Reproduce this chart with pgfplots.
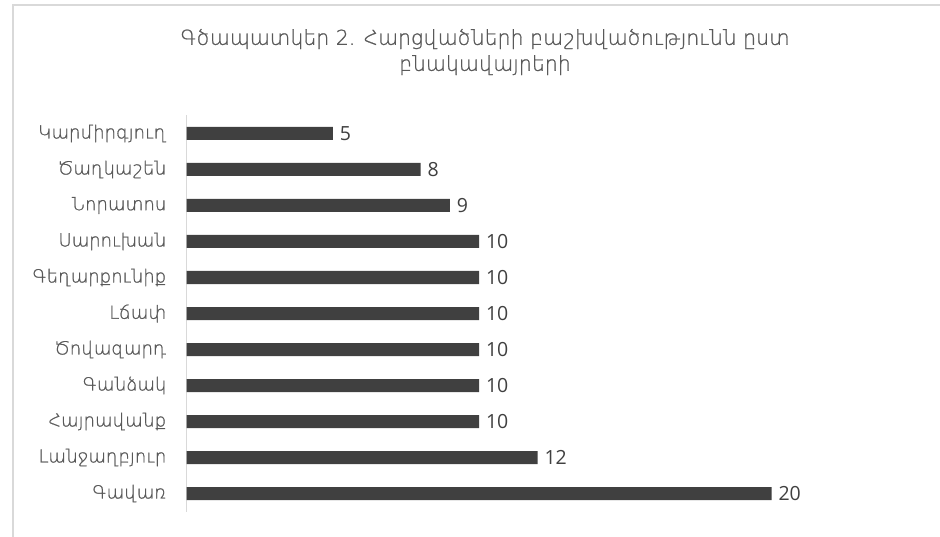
\documentclass[border=0pt]{standalone}
\usepackage{fontspec}
\usepackage{pgfplots}
\pgfplotsset{compat=1.18}
\setmainfont{Open Sans}
\newfontfamily\armfont[FakeBold=1]{DejaVu Sans ExtraLight}
\definecolor{barcol}{HTML}{404040}
\definecolor{txtcol}{HTML}{595959}
\definecolor{linecol}{HTML}{D9D9D9}
\begin{document}
\begin{tikzpicture}[x=1pt,y=1pt]
  % page frame
  \path[use as bounding box] (0,-537) rectangle (940,0);
  \fill[white] (0,-537) rectangle (940,0);
  \draw[linecol, line width=2pt] (13,-537) -- (13,-5) -- (940,-5);
  % title
  \node[text=txtcol, align=center, font=\armfont\fontsize{20.5}{26}\selectfont]
    at (485,-52) {Գծապատկեր 2. Հարցվածների բաշխվածությունն ըստ\\բնակավայրերի};
  \begin{axis}[
    at={(186.5pt,-511.5pt)}, anchor=south west,
    scale only axis,
    width=643.5pt, height=396pt,
    xmin=0, xmax=22,
    ymin=-0.5, ymax=10.5,
    axis x line=none,
    axis y line*=left,
    y axis line style={-, draw=linecol, line width=1.5pt},
    major tick length=0pt,
    ytick={0,...,10},
    yticklabels={Գավառ,Լանջաղբյուր,Հայրավանք,Գանձակ,Ծովազարդ,Լճափ,Գեղարքունիք,Սարուխան,Նորատոս,Ծաղկաշեն,Կարմիրգյուղ},
    yticklabel style={font=\armfont\fontsize{18}{20}\selectfont, text=txtcol, inner sep=0pt, xshift=-20pt},
    /pgf/number format/assume math mode=true,
    xbar, bar width=13pt,
    nodes near coords,
    every node near coord/.append style={font=\fontsize{19.5}{22}\selectfont, text=barcol, anchor=west, xshift=3.5pt},
    clip=false,
  ]
    % respondents by settlement
    \addplot[fill=barcol, draw=none] coordinates {
      (20,0) (12,1) (10,2) (10,3) (10,4) (10,5) (10,6) (10,7) (9,8) (8,9) (5,10)
    };
  \end{axis}
\end{tikzpicture}
\end{document}
